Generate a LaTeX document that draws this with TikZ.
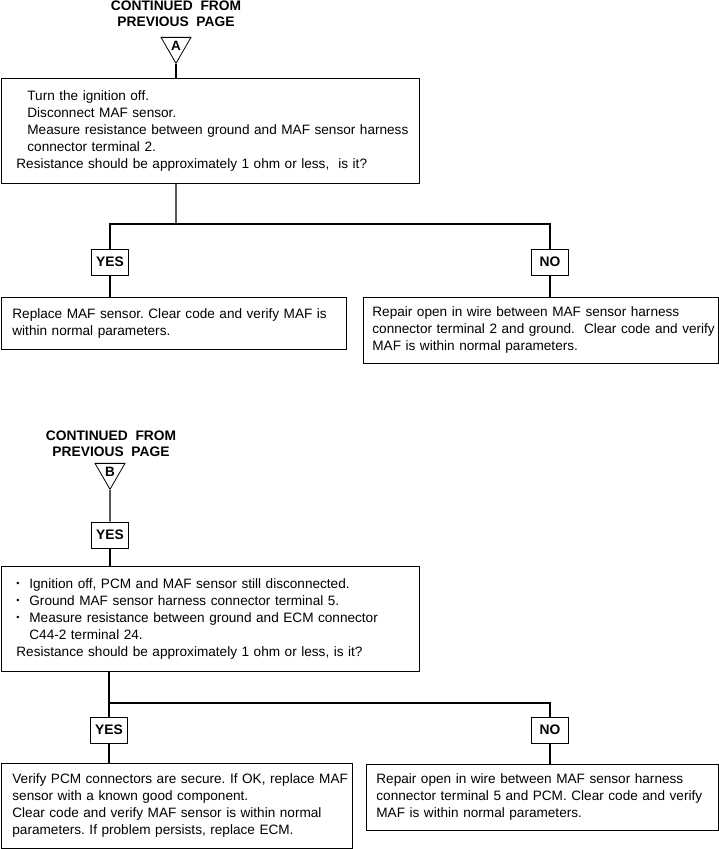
\documentclass[tikz,border=0pt]{standalone}
\usepackage{fontspec}
\setmainfont{Liberation Sans}
\usetikzlibrary{shapes.geometric}
\frenchspacing
\newcommand{\bodyfont}{\fontsize{13.6}{17}\selectfont}
\newcommand{\headfont}{\fontsize{13.8}{16}\selectfont\bfseries}
\newcommand{\bul}{\makebox[13pt][l]{\raisebox{1.6pt}{\fontsize{9}{9}\selectfont\textbullet}}}
\begin{document}
\begin{tikzpicture}[x=1pt,y=-1pt,
  box/.style={draw, line width=0.8pt, anchor=north west, align=left, font=\bodyfont, inner ysep=0pt},
  tag/.style={draw, line width=0.8pt, minimum width=37pt, minimum height=26pt, inner sep=0pt, font=\headfont},
  head/.style={align=center, font=\headfont, inner sep=0pt},
  tri/.style={draw, line width=0.8pt, regular polygon, regular polygon sides=3, shape border rotate=180, minimum size=34.6pt, inner sep=0pt, font=\fontsize{13.5}{13.5}\selectfont\bfseries},
  conn/.style={line width=1.2pt}]
\useasboundingbox (0,0) rectangle (719,849);

% ---------- Part A ----------
\node[head] (headA) at (176,14) {CONTINUED\ \ FROM\\PREVIOUS\ \ PAGE};
\node[tri] (tA) at (176,46) {\raisebox{1pt}{A}};

\node[box, text width=388pt, inner xsep=15pt, minimum height=105pt] (b1) at (1,78)
 {\mbox{\hspace*{11pt}Turn the ignition off.}\\
  \mbox{\hspace*{11pt}Disconnect MAF sensor.}\\
  \mbox{\hspace*{11pt}Measure resistance between ground and MAF sensor harness}\\
  \mbox{\hspace*{11pt}connector terminal 2.}\\
  \mbox{Resistance should be approximately 1 ohm or less,\ \ is it?}};

\coordinate (j1) at (176,224);
\node[tag] (yesA) at (110,262) {YES};
\node[tag] (noA) at (550,262) {NO};

\node[box, text width=323pt, inner xsep=11pt, minimum height=52pt] (b2) at (1,297)
 {\mbox{Replace MAF sensor. Clear code and verify MAF is}\\
  \mbox{within normal parameters.}};

\node[box, text width=337pt, inner xsep=9pt, minimum height=66pt] (b3) at (363,297)
 {\mbox{Repair open in wire between MAF sensor harness}\\
  \mbox{connector terminal 2 and ground.\ \ Clear code and verify}\\
  \mbox{MAF is within normal parameters.}};

\draw[conn] (tA.south) -- (tA.south |- b1.north);
\draw[conn] (tA.south |- b1.south) -- (j1);
\draw[conn] (yesA.north) |- (j1) -| (noA.north);
\draw[conn] (yesA.south) -- (yesA.south |- b2.north);
\draw[conn] (noA.south) -- (noA.south |- b3.north);

% ---------- Part B ----------
\node[head] (headB) at (111,444) {CONTINUED\ \ FROM\\PREVIOUS\ \ PAGE};
\node[tri] (tB) at (110,472) {\raisebox{1pt}{B}};
\node[tag] (yesB) at (110,535) {YES};

\node[box, text width=388pt, inner xsep=15pt, minimum height=105pt] (b4) at (1,566)
 {\mbox{\bul Ignition off, PCM and MAF sensor still disconnected.}\\
  \mbox{\bul Ground MAF sensor harness connector terminal 5.}\\
  \mbox{\bul Measure resistance between ground and ECM connector}\\
  \mbox{\hspace*{13pt}C44-2 terminal 24.}\\
  \mbox{Resistance should be approximately 1 ohm or less, is it?}};

\node[tag] (yesC) at (109,730) {YES};
\node[tag] (noC) at (550,730) {NO};
\coordinate (j2) at (109,703);

\node[box, text width=329pt, inner xsep=11pt, minimum height=85pt] (b5) at (1,763)
 {\mbox{Verify PCM connectors are secure. If OK, replace MAF}\\
  \mbox{sensor with a known good component.}\\
  \mbox{Clear code and verify MAF sensor is within normal}\\
  \mbox{parameters. If problem persists, replace ECM.}};

\node[box, text width=332pt, inner xsep=10pt, minimum height=66pt] (b6) at (366,764)
 {\mbox{Repair open in wire between MAF sensor harness}\\
  \mbox{connector terminal 5 and PCM. Clear code and verify}\\
  \mbox{MAF is within normal parameters.}};

\draw[conn] (tB.south) -- (yesB.north);
\draw[conn] (yesB.south) -- (yesB.south |- b4.north);
\draw[conn] (yesC.north |- b4.south) -- (yesC.north);
\draw[line width=1.8pt] (j2) -| (noC.north);
\draw[conn] (yesC.south) -- (yesC.south |- b5.north);
\draw[conn] (noC.south) -- (noC.south |- b6.north);
\end{tikzpicture}
\end{document}
